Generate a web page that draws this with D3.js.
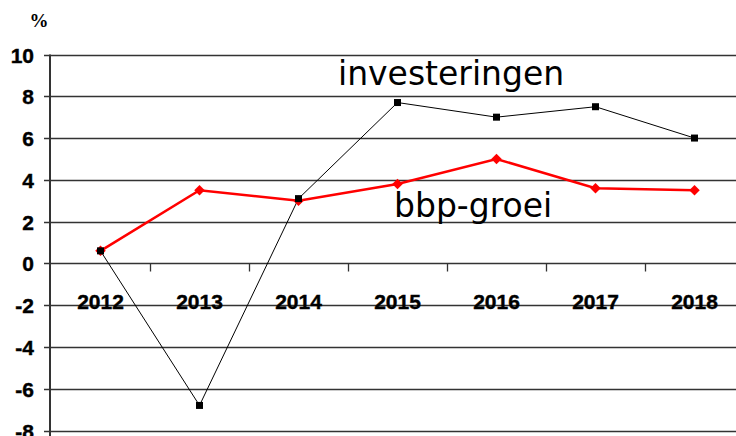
<!DOCTYPE html>
<html><head><meta charset="utf-8">
<script src="https://cdn.jsdelivr.net/npm/d3@7"></script>
<style>body{margin:0;background:#fff}svg{display:block}</style>
</head><body>
<script>
const years = ["2012","2013","2014","2015","2016","2017","2018"];
const investeringen = [0.6, -6.8, 3.1, 7.7, 7.0, 7.5, 6.0];
const bbpGroei = [0.6, 3.5, 3.0, 3.8, 5.0, 3.6, 3.5];
const yTicks = [10, 8, 6, 4, 2, 0, -2, -4, -6, -8];

const W = 736, H = 436;
const svg = d3.select("body").append("svg").attr("width", W).attr("height", H);
const x = d3.scaleBand().domain(years).range([51, 51 + 99 * 7]);
const y = d3.scaleLinear().domain([-8, 10]).range([430.5, 54.5]);

// gridlines
svg.append("g").selectAll("line").data(yTicks).join("line")
  .attr("x1", 44).attr("x2", W).attr("y1", d => Math.round(y(d)) + 0.5).attr("y2", d => Math.round(y(d)) + 0.5)
  .attr("stroke", "#333").attr("stroke-width", 1.3);

// y axis
const yAxis = d3.axisLeft(y).tickValues(yTicks).tickSize(0).tickPadding(16)
  .tickFormat(d => String(d).replace("\u2212", "-"));
const gy = svg.append("g").attr("transform", "translate(50,0)").call(yAxis);
gy.select(".domain").remove();
gy.selectAll("text").attr("font-family", "Liberation Sans, Arial, sans-serif")
  .attr("font-weight", "bold").attr("font-size", 21).attr("fill", "#000").attr("dy", "0.36em")
  .attr("stroke", "#000").attr("stroke-width", 0.4);
svg.append("line").attr("x1", 50).attr("x2", 50).attr("y1", y(10)).attr("y2", H)
  .attr("stroke", "#333").attr("stroke-width", 2);

// x axis on zero line
const y0 = Math.round(y(0)) + 0.5;
svg.append("g").selectAll("line").data(years.slice(1)).join("line")
  .attr("x1", d => Math.round(x(d)) + 0.5).attr("x2", d => Math.round(x(d)) + 0.5)
  .attr("y1", y0).attr("y2", y0 + 8).attr("stroke", "#333").attr("stroke-width", 1.3);
svg.append("g").selectAll("text").data(years).join("text")
  .attr("x", d => x(d) + x.bandwidth() / 2).attr("y", 309)
  .attr("text-anchor", "middle").attr("font-family", "Liberation Sans, Arial, sans-serif")
  .attr("font-weight", "bold").attr("font-size", 21).attr("fill", "#000")
  .attr("stroke", "#000").attr("stroke-width", 0.4).text(d => d);

// % label
svg.append("text").attr("x", 39).attr("y", 27).attr("text-anchor", "middle")
  .attr("font-family", "Liberation Serif, serif").attr("font-weight", "bold").attr("font-size", 19).text("%");

const cx = d => x(d) + x.bandwidth() / 2;
const line = d3.line().x((d, i) => cx(years[i])).y(d => y(d));

// investeringen
svg.append("path").datum(investeringen).attr("d", line).attr("fill", "none").attr("stroke", "#000").attr("stroke-width", 1);
// bbp
svg.append("path").datum(bbpGroei).attr("d", line).attr("fill", "none").attr("stroke", "#ff0000").attr("stroke-width", 2.5);
svg.append("g").selectAll("path").data(bbpGroei).join("path")
  .attr("d", d3.symbol(d3.symbolDiamond2, 70)())
  .attr("transform", (d, i) => `translate(${cx(years[i])},${y(d)})`).attr("fill", "#ff0000");
svg.append("g").selectAll("rect").data(investeringen).join("rect")
  .attr("x", (d, i) => cx(years[i]) - 3.5).attr("y", d => y(d) - 3.5)
  .attr("width", 7).attr("height", 7).attr("fill", "#000");

// labels
svg.append("text").attr("x", 338).attr("y", 85).attr("font-family", "DejaVu Sans, sans-serif")
  .attr("font-size", 33).attr("fill", "#000").text("investeringen");
svg.append("text").attr("x", 394).attr("y", 217).attr("font-family", "DejaVu Sans, sans-serif")
  .attr("font-size", 33).attr("fill", "#000").text("bbp-groei");
</script>
</body></html>
